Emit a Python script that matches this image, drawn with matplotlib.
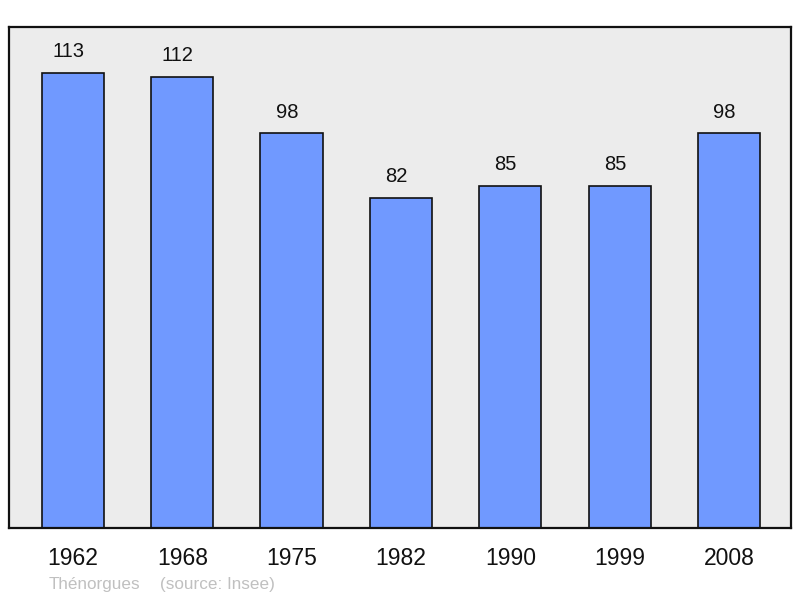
import matplotlib
matplotlib.use("Agg")
import matplotlib.pyplot as plt

plt.rcParams['font.family'] = ['Liberation Sans', 'DejaVu Sans']

years = ["1962", "1968", "1975", "1982", "1990", "1999", "2008"]
population = [113, 112, 98, 82, 85, 85, 98]

fig = plt.figure(figsize=(8, 5.98), dpi=100)
ax = fig.add_axes([9/800, 70/598, 782/800, 501/598])
ax.set_facecolor('#ececec')

x = list(range(len(years)))
ax.bar(x, population, width=0.57, color='#7099ff', edgecolor='#111111', linewidth=1.2, zorder=2)
for xi, v in zip(x, population):
    ax.annotate(str(v), (xi, v), xytext=(-3.3, 15.2), textcoords='offset points',
                ha='center', va='center', fontsize=14.5, color='#111111')

ax.set_xlim(-0.585, 6.567)
ax.set_ylim(0, 124.4)
ax.set_xticks(x)
ax.set_xticklabels(years, fontsize=16.5, color='#111111')
ax.tick_params(axis='x', length=0, pad=13.5)
ax.set_yticks([])
for s in ax.spines.values():
    s.set_linewidth(1.6)
    s.set_color('#111111')

fig.text(49/800, 1 - 585/598, "Thénorgues", fontsize=12.3, color='#c0c0c0', va='center', ha='left')
fig.text(160/800, 1 - 585/598, "(source: Insee)", fontsize=12.3, color='#c0c0c0', va='center', ha='left')

fig.savefig("out.png", dpi=100)
